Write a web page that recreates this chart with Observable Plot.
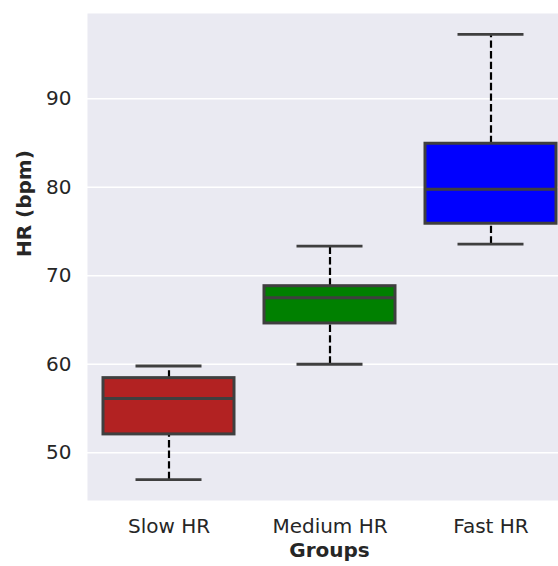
<!DOCTYPE html>
<html>
<head>
<meta charset="utf-8">
<script src="https://cdn.jsdelivr.net/npm/d3@7"></script>
<script src="https://cdn.jsdelivr.net/npm/@observablehq/plot@0.6"></script>
<style>
  html, body { margin: 0; padding: 0; background: white; overflow: hidden; }
  #chart { width: 558px; height: 566px; overflow: hidden; }
</style>
</head>
<body>
<div id="chart"></div>
<script>
// Heart-rate summary statistics per group (box plot: whiskers, quartiles, median)
const groups = ["Slow HR", "Medium HR", "Fast HR"];
const whiskerLow = [46.95, 60.0, 73.57];
const q1 = [52.07, 64.61, 75.88];
const median = [56.14, 67.51, 79.79];
const q3 = [58.43, 68.82, 84.92];
const whiskerHigh = [59.8, 73.35, 97.27];
const boxColors = ["#B22222", "#008000", "#0000FF"];
const yTicks = [50, 60, 70, 80, 90];

const rows = groups.map((g, i) => ({
  group: g, lo: whiskerLow[i], q1: q1[i], med: median[i], q3: q3[i], hi: whiskerHigh[i]
}));

const edge = "#3f3f3f";
const dash = "7.4,3.2";

const chart = Plot.plot({
  width: 571,
  height: 566,
  marginLeft: 87,
  marginRight: 0,
  marginTop: 13,
  marginBottom: 66,
  style: {
    fontFamily: "DejaVu Sans, sans-serif",
    fontSize: "20px",
    color: "#262626",
    background: "white",
    maxWidth: "none",
    overflow: "visible"
  },
  x: {domain: groups, padding: 0, label: null, tickSize: 0, tickPadding: 18},
  y: {domain: [44.6, 99.64], ticks: yTicks, label: null, tickSize: 0, tickPadding: 16},
  color: {domain: groups, range: boxColors},
  marks: [
    Plot.frame({fill: "#EAEAF2", stroke: null}),
    Plot.ruleY(yTicks, {stroke: "white", strokeWidth: 1.5}),
    // whiskers
    Plot.ruleX(rows, {x: "group", y1: "q3", y2: "hi", stroke: "black", strokeWidth: 2.2, strokeDasharray: dash}),
    Plot.ruleX(rows, {x: "group", y1: "lo", y2: "q1", stroke: "black", strokeWidth: 2.2, strokeDasharray: dash}),
    // whisker caps
    Plot.tickY(rows, {x: "group", y: "hi", stroke: edge, strokeWidth: 2.8, inset: 47.5}),
    Plot.tickY(rows, {x: "group", y: "lo", stroke: edge, strokeWidth: 2.8, inset: 47.5}),
    // boxes
    Plot.barY(rows, {x: "group", y1: "q1", y2: "q3", fill: "group", stroke: edge, strokeWidth: 3, insetLeft: 15, insetRight: 15}),
    // medians
    Plot.tickY(rows, {x: "group", y: "med", stroke: edge, strokeWidth: 3, inset: 15}),
    // axis titles
    Plot.text(["Groups"], {frameAnchor: "bottom", dy: 56, fontWeight: "bold", fontSize: 20, fill: "#262626"}),
    Plot.text(["HR (bpm)"], {frameAnchor: "left", dx: -63, rotate: -90, fontWeight: "bold", fontSize: 20, fill: "#262626"})
  ]
});

document.getElementById("chart").append(chart);
</script>
</body>
</html>
